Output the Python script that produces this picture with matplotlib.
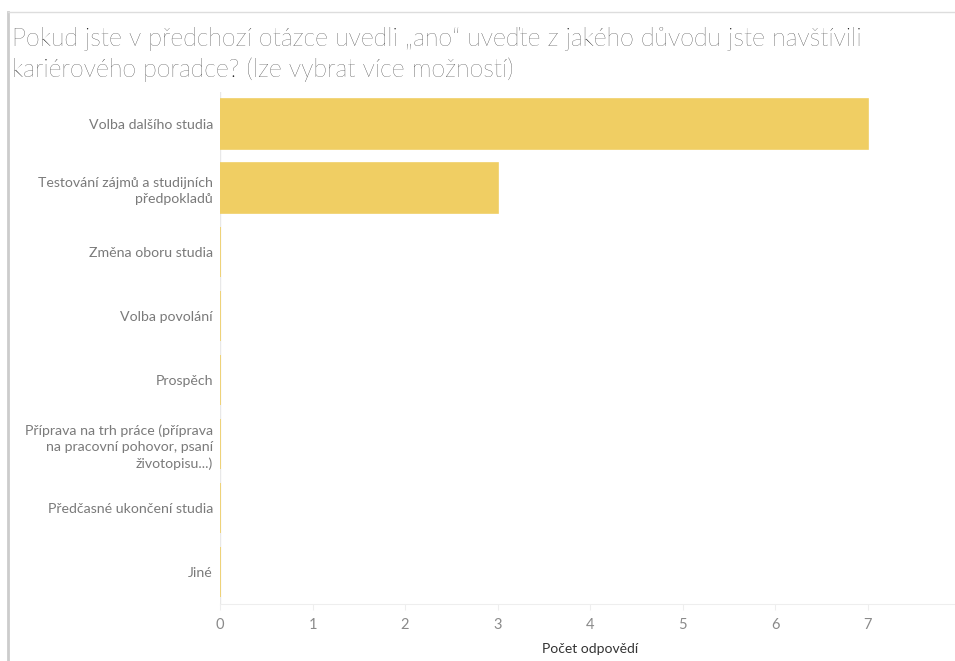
import numpy as np
import matplotlib.pyplot as plt
from matplotlib.lines import Line2D

title = ("Pokud jste v předchozí otázce uvedli \u201eano\u201c uveďte z jakého důvodu jste navštívili\n"
         "kariérového poradce? (lze vybrat více možností)")
categories = [
    "Volba dalšího studia",
    "Testování zájmů a studijních\npředpokladů",
    "Změna oboru studia",
    "Volba povolání",
    "Prospěch",
    "Příprava na trh práce (příprava\nna pracovní pohovor, psaní\nživotopisu...)",
    "Předčasné ukončení studia",
    "Jiné",
]
values = [7, 3, 0, 0, 0, 0, 0, 0]
xticks = [0, 1, 2, 3, 4, 5, 6, 7, 8]

plt.rcParams['font.family'] = ['Lato', 'DejaVu Sans']

fig = plt.figure(figsize=(9.55, 6.61), dpi=100)
W, H = 955, 661
ax = fig.add_axes([220 / W, (H - 604) / H, (960 - 220) / W, (604 - 92) / H])

y = np.arange(len(categories))
ax.barh(y, values, height=0.77, color="#F0CE63", edgecolor="#F0CE63", linewidth=1.2)
ax.set_ylim(len(categories) - 0.5, -0.5)
ax.set_xlim(0, 8)
ax.set_yticks(y)
ax.set_yticklabels(categories, fontsize=10.2, color="#7a7a7a", linespacing=1.4)
ax.set_xticks(xticks)
ax.set_xticklabels([str(t) for t in xticks], fontsize=10.5, color="#8a8a8a")
ax.tick_params(axis="y", length=0, pad=5)
ax.tick_params(axis="x", length=4, color="#eeeeee", pad=6)
for s in ["top", "right", "left"]:
    ax.spines[s].set_visible(False)
ax.spines["bottom"].set_color("#eeeeee")
ax.axvline(0, color="#e8e8e8", lw=1, zorder=0)
ax.set_xlabel("Počet odpovědí", fontsize=10, color="#333333", labelpad=8)

fig.text(12 / W, 1 - 27 / H, title, fontsize=18, fontweight="light",
         color="#111111", va="top", ha="left", linespacing=1.3)

fig.add_artist(Line2D([8 / W, 8 / W], [0, 1 - 12 / H], color="#cccccc", lw=2,
                      transform=fig.transFigure))
fig.add_artist(Line2D([8 / W, 1], [1 - 12 / H, 1 - 12 / H], color="#dddddd", lw=1,
                      transform=fig.transFigure))

fig.savefig("out.png", dpi=100)
